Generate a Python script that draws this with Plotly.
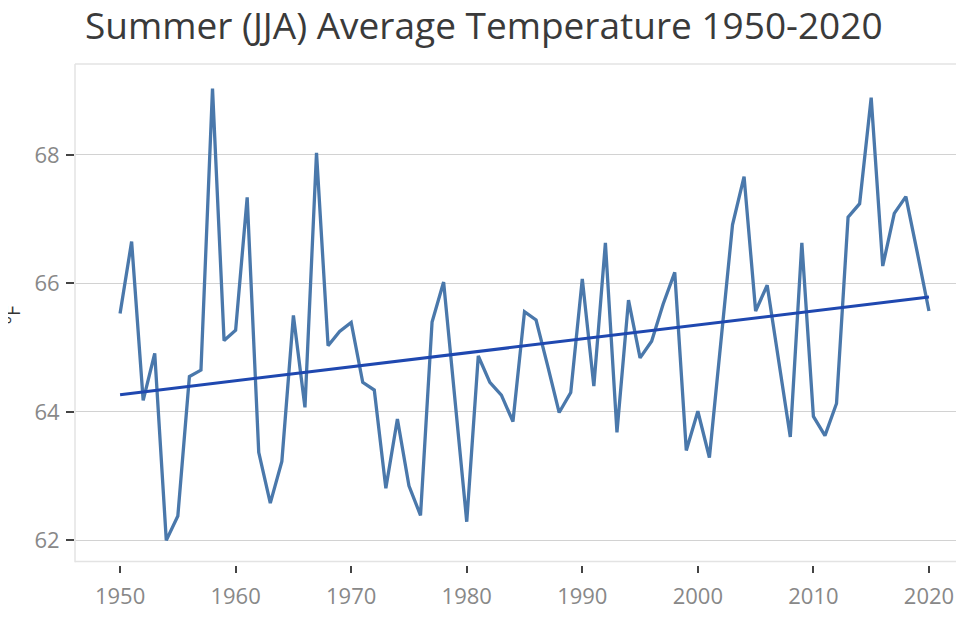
import numpy as np
import plotly.graph_objects as go

years = list(range(1950, 2021))
temps = [65.53, 66.65, 64.18, 64.91, 62.00, 62.38, 64.55, 64.65, 69.03, 65.11,
         65.27, 67.34, 63.37, 62.58, 63.23, 65.50, 64.07, 68.03, 65.03, 65.25,
         65.39, 64.46, 64.34, 62.81, 63.89, 62.85, 62.39, 65.40, 66.02, 64.15,
         62.29, 64.87, 64.46, 64.26, 63.85, 65.56, 65.43, 64.72, 63.99, 64.30,
         66.07, 64.40, 66.63, 63.68, 65.74, 64.84, 65.10, 65.68, 66.17, 63.40,
         64.01, 63.29, 65.10, 66.91, 67.66, 65.57, 65.97, 64.79, 63.61, 66.63,
         63.93, 63.63, 64.13, 67.03, 67.24, 68.89, 66.27, 67.09, 67.35, 66.47,
         65.57]
x_ticks = [1950, 1960, 1970, 1980, 1990, 2000, 2010, 2020]
y_ticks = [62, 64, 66, 68]
title_text = "Summer (JJA) Average Temperature 1950-2020"
y_title = "°F"

slope, intercept = np.polyfit(years, temps, 1)
trend_x = [years[0], years[-1]]
trend_y = [intercept + slope * v for v in trend_x]

fig = go.Figure()
fig.add_trace(go.Scatter(x=years, y=temps, mode="lines",
                         line=dict(color="#4a78ab", width=3.3), showlegend=False))
fig.add_trace(go.Scatter(x=trend_x, y=trend_y, mode="lines",
                         line=dict(color="#1f48b0", width=3), showlegend=False))

W, H = 948, 602
border = "#e3e3e3"
fig.update_layout(
    width=W, height=H,
    margin=dict(l=67, r=0, t=56, b=35),
    paper_bgcolor="white", plot_bgcolor="white",
    title=dict(text=title_text, x=77/W, xref="container", xanchor="left",
               y=1-18/H, yref="container", yanchor="middle",
               font=dict(family="Open Sans", size=37, color="#3a3a3a")),
    xaxis=dict(range=[1946.1, 2022.34], tickvals=x_ticks, ticks="outside",
               ticklen=7, tickwidth=1.5, tickcolor="#444", showgrid=False,
               zeroline=False, showline=False,
               tickfont=dict(family="Open Sans", size=22, color="#888"),
               ticklabelstandoff=5),
    yaxis=dict(range=[61.617, 69.414], tickvals=y_ticks, ticks="outside",
               ticklen=8, tickwidth=1.5, tickcolor="#444", showgrid=True,
               gridcolor="#d2d2d2", gridwidth=1, zeroline=False, showline=False,
               tickfont=dict(family="Open Sans", size=22, color="#888"),
               ticklabelstandoff=2),
    shapes=[
        dict(type="line", xref="paper", yref="y", x0=0, x1=1, y0=61.67, y1=61.67,
             line=dict(color=border, width=1.5)),
        dict(type="line", xref="paper", yref="paper", x0=0, x1=0, y0=0.0055, y1=1,
             line=dict(color=border, width=1.5)),
        dict(type="line", xref="paper", yref="paper", x0=0, x1=1, y0=1, y1=1,
             line=dict(color=border, width=1.5)),
    ],
    annotations=[dict(text=y_title, textangle=-90, xref="paper", yref="y",
                      x=-0.0715, y=65.5, showarrow=False, xanchor="center",
                      font=dict(family="Open Sans", size=20, color="#333"))],
)
fig.write_html("out.html")
